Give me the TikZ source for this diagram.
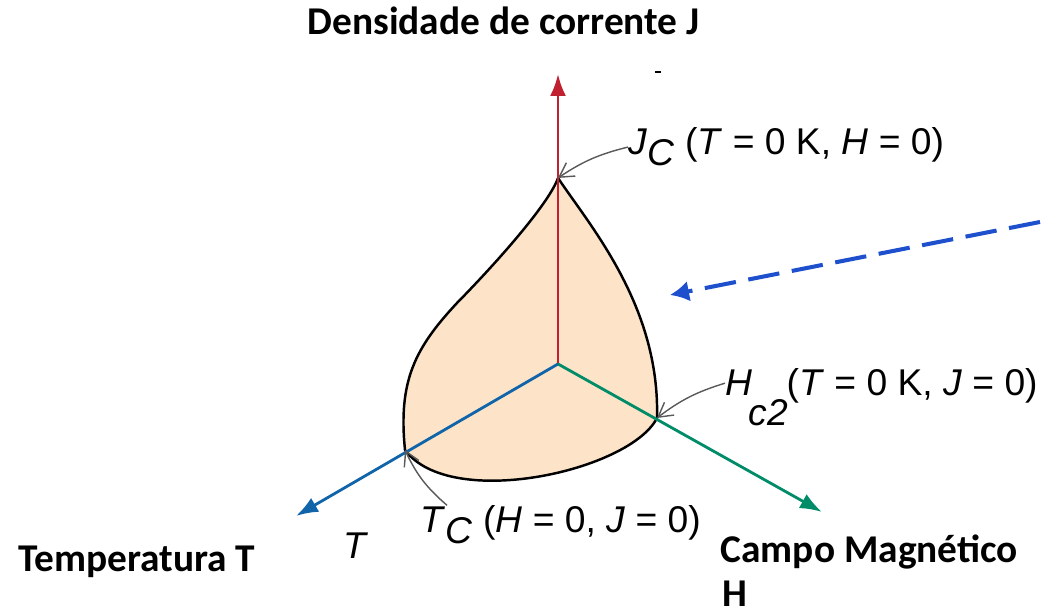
\documentclass[tikz,border=0pt]{standalone}
\usepackage{fontspec}
\setmainfont{Liberation Sans}
\newfontfamily\titlefont{Carlito}
\usetikzlibrary{arrows.meta,positioning}
\definecolor{jaxis}{RGB}{192,32,48}
\definecolor{taxis}{RGB}{16,100,170}
\definecolor{haxis}{RGB}{0,140,105}
\definecolor{peach}{RGB}{253,228,200}
\definecolor{pointer}{RGB}{30,80,205}
\newcommand{\ivar}[1]{\textit{#1}}

\begin{document}
\begin{tikzpicture}[
  axis/.style={line width=0.8pt, -{Latex[length=2.2mm,width=1.6mm]}},
  leader/.style={gray!70!black, line width=0.4pt, -{Straight Barb[length=1.4mm,width=1.6mm]}},
  axlabel/.style={font=\titlefont\bfseries\fontsize{11.2}{13}\selectfont, inner sep=0pt},
  crit/.style={font=\fontsize{10.6}{12}\selectfont, inner sep=0pt}
]
\useasboundingbox (0,0) rectangle (10.51,6.16);
% pontos principais
\coordinate (o) at (5.58,2.52);
\coordinate (jc) at (5.58,4.38);
\coordinate (tc) at (4.05,1.66);
\coordinate (hc) at (6.57,1.98);
\coordinate (jtop) at (5.58,5.42);
\coordinate (tend) at (2.96,1.00);
\coordinate (hend) at (8.22,1.04);
% superficie critica
\filldraw[fill=peach, draw=black, line width=0.7pt]
  (jc) .. controls (5.50,4.15) and (5.05,3.62) .. (4.57,3.13)
       .. controls (4.15,2.68) and (3.98,2.35) .. (tc)
       .. controls (4.5,1.05) and (6.3,1.45) .. (hc)
       .. controls (6.6,3.1) and (5.9,3.9) .. (jc);
% eixos
\draw[axis, jaxis] (o) -- (jtop);
\draw[axis, taxis] (o) -- (tend);
\draw[axis, haxis] (o) -- (hend);
\draw[line width=0.6pt] (6.55,5.44) -- (6.61,5.44);
% rotulos dos eixos
\node[axlabel, anchor=base west] (jtitle) at (3.07,5.81) {Densidade de corrente J};
\node[axlabel, anchor=base west] (ttitle) at (0.18,0.44) {Temperatura T};
\node[axlabel, anchor=base west] (htitle) at (7.20,0.53) {Campo Magnético};
\node[axlabel, anchor=base west] (htitle2) at (7.22,0.09) {H};
\node[crit, anchor=base] (tvar) at (3.56,0.57) {\ivar{T}};
% valores criticos
\node[crit, anchor=base west] (jclab) at (6.28,4.61)
  {\ivar{J}\raisebox{-0.55ex}{\ivar{C}} (\ivar{T} = 0 K, \ivar{H} = 0)};
\node[crit, anchor=base west] (hclab) at (7.25,2.20) {\ivar{H}};
\node[crit, anchor=base west] (hcsub) at (7.48,1.90) {\ivar{c2}};
\node[crit, anchor=base west] (hcrest) at (7.86,2.20) {(\ivar{T} = 0 K, \ivar{J} = 0)};
\node[crit, anchor=base west] (tclab) at (4.20,0.83)
  {\ivar{T}\raisebox{-0.55ex}{\ivar{C}} (\ivar{H} = 0, \ivar{J} = 0)};
% setas indicadoras
\draw[leader] (jclab.west) to[bend right=10] (jc);
\draw[leader] (hclab.west) to[bend right=10] (hc);
\draw[leader] ([xshift=0.27cm]tclab.north west) to[bend left=12] (tc);
\coordinate (ptr) at (10.40,3.94);
\draw[pointer, line width=1.15pt, dash pattern=on 9pt off 3.6pt,
  -{Latex[length=1.9mm,width=2.1mm]}] (ptr) -- (6.70,3.21);
\end{tikzpicture}
\end{document}
